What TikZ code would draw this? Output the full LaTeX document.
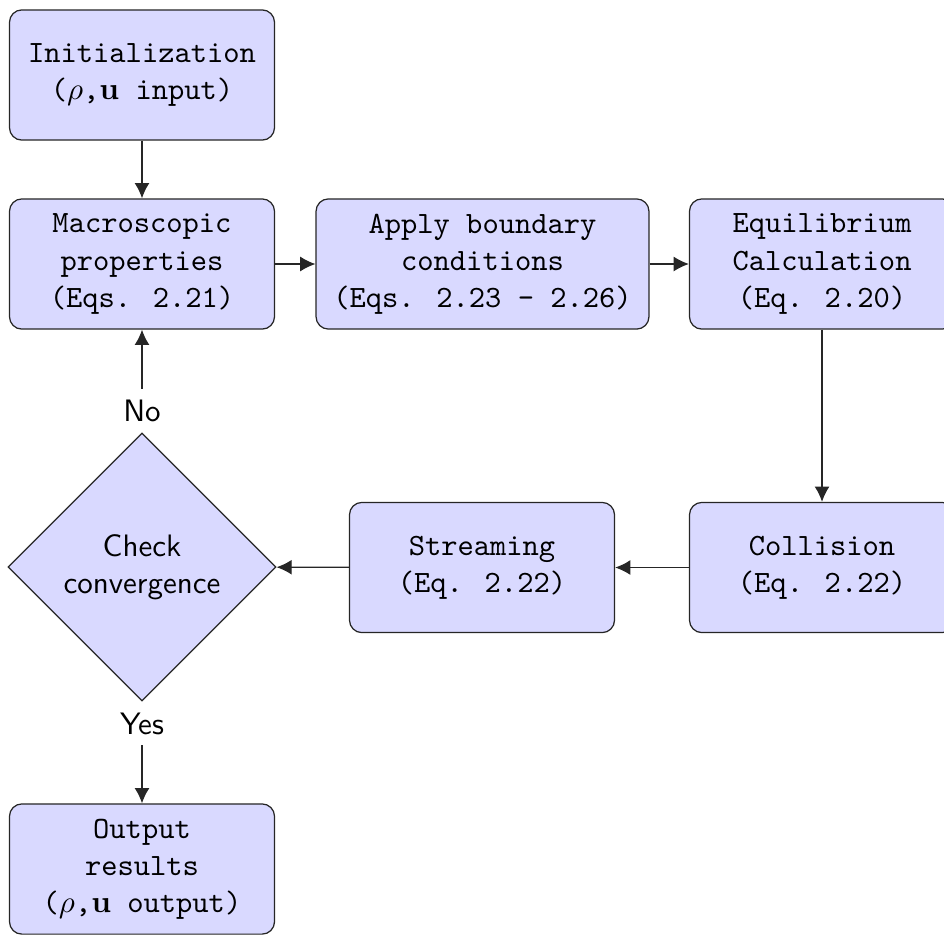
\documentclass[tikz,border=0pt]{standalone}
\usetikzlibrary{shapes.geometric,arrows.meta}
\begin{document}
\begin{tikzpicture}[x=0.32258pt,y=-0.32258pt,
  box/.style={draw=black!85, fill=blue!15, rounded corners=4pt, align=center,
    font=\ttfamily, minimum width=85.5pt, minimum height=42pt},
  widebox/.style={box, minimum width=107.4pt},
  decision/.style={diamond, draw=black!85, fill=blue!15, aspect=1, align=center,
    font=\sffamily, minimum width=86.5pt, minimum height=86.5pt, inner sep=0pt},
  arr/.style={-{Latex[length=4.9pt,width=4.8pt]}, draw=black!85},
  lbl/.style={font=\sffamily}]
\useasboundingbox (0,0) rectangle (944,934);

% process steps
\node[box] (init) at (142,75) {Initialization\\($\rho$,$\mathbf{u}$ input)};
\node[box] (macro) at (142,264) {Macroscopic\\properties\\(Eqs. 2.21)};
\node[widebox] (bc) at (482.5,264) {Apply boundary\\conditions\\(Eqs. 2.23 - 2.26)};
\node[box] (equil) at (822,264) {Equilibrium\\Calculation\\(Eq. 2.20)};
\node[box] (coll) at (822,567.5) {Collision\\(Eq. 2.22)};
\node[box] (stream) at (482,567.5) {Streaming\\(Eq. 2.22)};
\node[decision] (check) at (142,567) {Check\\convergence};
\node[box] (out) at (142,869) {Output\\results\\($\rho$,$\mathbf{u}$ output)};

% decision labels
\node[lbl, anchor=south] (no) at (check.north) {No};
\node[lbl, anchor=north] (yes) at (check.south) {Yes};

% flow
\draw[arr] (init) -- (macro);
\draw[arr] (macro) -- (bc);
\draw[arr] (bc) -- (equil);
\draw[arr] (equil) -- (coll);
\draw[arr] (coll) -- (stream);
\draw[arr] (stream) -- (check);
\draw[arr] (no) -- (macro);
\draw[arr] (yes) -- (out);
\end{tikzpicture}
\end{document}
